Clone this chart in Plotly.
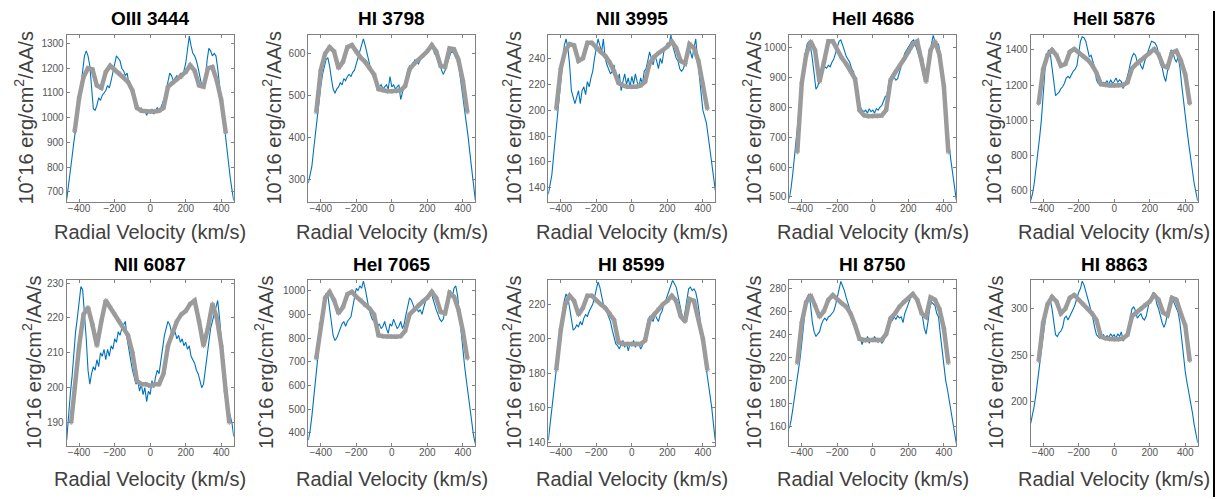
import plotly.graph_objects as go

# ---------------- data ----------------
TITLES = ["OIII 3444", "HI 3798", "NII 3995", "HeII 4686", "HeII 5876",
          "NII 6087", "HeI 7065", "HI 8599", "HI 8750", "HI 8863"]

# observed spectrum velocity grid (km/s)
OBS_V = list(range(-470, 471, 10))
# model velocity grid (km/s)
MODEL_V = list(range(-425, 426, 25))
MODEL_V_WIDE = [-445] + list(range(-425, 426, 25)) + [445]

OBS_OIII_3444 = [
    670, 720, 780, 840, 900, 950, 990, 1050, 1130, 1200,
    1250, 1270, 1250, 1210, 1116, 1036, 1030, 1050, 1080, 1070,
    1090, 1100, 1110, 1130, 1120, 1150, 1180, 1210, 1250, 1240,
    1230, 1200, 1190, 1170, 1180, 1140, 1110, 1090, 1070, 1050,
    1040, 1030, 1040, 1020, 1030, 1010, 1025, 1020, 1035, 1015,
    1030, 1040, 1030, 1040, 1060, 1080, 1110, 1150, 1180, 1170,
    1150, 1160, 1170, 1160, 1180, 1170, 1190, 1220, 1270, 1330,
    1290, 1260, 1250, 1230, 1200, 1160, 1130, 1120, 1150, 1230,
    1280, 1270, 1250, 1260, 1250, 1200, 1130, 1060, 1000, 950,
    880, 820, 760, 710, 665]
OBS_HI_3798 = [
    290, 310, 330, 370, 410, 450, 480, 520, 550, 570,
    585, 590, 570, 540, 515, 505, 515, 520, 530, 525,
    540, 535, 545, 550, 545, 555, 560, 575, 590, 600,
    615, 635, 620, 600, 580, 565, 550, 540, 530, 525,
    520, 525, 515, 520, 525, 515, 545, 520, 525, 515,
    520, 525, 490, 505, 520, 540, 560, 570, 565, 575,
    585, 580, 575, 585, 590, 595, 600, 605, 610, 620,
    615, 600, 595, 580, 575, 560, 550, 560, 575, 590,
    600, 605, 600, 590, 585, 560, 530, 490, 460, 440,
    400, 360, 320, 290, 250]
OBS_NII_3995 = [
    135, 142, 150, 165, 180, 195, 210, 225, 240, 250,
    255, 248, 235, 215, 210, 205, 210, 215, 205, 215,
    218, 212, 222, 218, 225, 230, 240, 248, 255, 250,
    245, 255, 240, 235, 232, 228, 230, 235, 225, 222,
    228, 215, 222, 228, 220, 225, 218, 226, 220, 228,
    222, 218, 225, 220, 230, 232, 238, 245, 240, 235,
    242, 238, 232, 240, 236, 245, 248, 252, 250, 258,
    250, 245, 240, 238, 232, 230, 232, 236, 245, 250,
    245, 240, 248, 255, 240, 225, 210, 200, 195, 190,
    180, 170, 160, 150, 138]
OBS_HEII_4686 = [
    495, 530, 580, 640, 700, 760, 830, 880, 940, 980,
    1010, 1020, 1000, 960, 900, 860, 870, 890, 910, 930,
    935, 930, 940, 935, 950, 960, 980, 1000, 1020, 1025,
    1010, 990, 970, 960, 950, 930, 920, 900, 870, 830,
    800, 790, 785, 790, 780, 795, 785, 790, 780, 795,
    790, 800, 805, 820, 835, 840, 880, 900, 910, 900,
    890, 895, 920, 940, 960, 980, 990, 1000, 1010, 1020,
    1025, 1010, 990, 970, 950, 920, 890, 900, 940, 980,
    1010, 1040, 1020, 1015, 1010, 980, 930, 870, 800, 730,
    670, 620, 570, 530, 490]
OBS_HEII_5876 = [
    543, 580, 640, 720, 800, 900, 1000, 1150, 1280, 1360,
    1400, 1380, 1300, 1200, 1140, 1150, 1160, 1180, 1190, 1210,
    1240, 1250, 1240, 1260, 1280, 1290, 1310, 1380, 1450, 1475,
    1470, 1450, 1400, 1360, 1370, 1340, 1300, 1230, 1210, 1205,
    1200, 1215, 1210, 1225, 1200, 1230, 1210, 1220, 1240, 1215,
    1230, 1220, 1180, 1200, 1230, 1270, 1320, 1360, 1380, 1370,
    1330, 1340, 1310, 1290, 1330, 1360, 1390, 1420, 1450, 1445,
    1440, 1420, 1380, 1320, 1300, 1250, 1220, 1280, 1360, 1400,
    1390, 1350, 1330, 1360, 1300, 1200, 1100, 1020, 940, 860,
    780, 700, 640, 590, 540]
OBS_NII_6087 = [
    185, 193, 198, 203, 210, 216, 220, 224, 229, 228,
    222, 214, 205, 201, 204, 206, 205, 208, 206, 210,
    209, 211, 208, 211, 209, 212, 211, 214, 213, 216,
    215, 217, 218, 219, 214, 211, 207, 205, 203, 201,
    202, 199, 201, 198, 200, 196, 199, 198, 202, 200,
    203, 205, 204, 208, 212, 215, 217, 219, 218, 216,
    215, 216, 214, 215, 213, 214, 212, 213, 211, 212,
    209, 208, 207, 205, 204, 202, 200, 201, 205, 210,
    214, 217, 219, 221, 223, 225, 220, 214, 208, 202,
    197, 194, 192, 190, 186]
OBS_HEI_7065 = [
    370, 410, 470, 540, 610, 680, 750, 840, 920, 960,
    990, 980, 930, 870, 810, 790, 800, 820, 840, 860,
    870, 850, 870, 880, 890, 930, 980, 1010, 1000, 1020,
    1010, 1040, 1010, 960, 930, 900, 880, 870, 860, 850,
    860, 840, 850, 870, 840, 820, 860, 850, 880, 860,
    840, 850, 870, 840, 860, 900, 940, 970, 960, 940,
    920, 930, 910, 920, 900, 930, 960, 980, 990, 1000,
    970, 940, 920, 900, 880, 870, 880, 920, 960, 990,
    1000, 970, 1010, 1020, 980, 900, 820, 740, 680, 620,
    560, 500, 440, 390, 355]
OBS_HI_8599 = [
    141, 150, 158, 166, 175, 185, 195, 205, 215, 222,
    226, 224, 218, 210, 205, 206, 208, 207, 210, 208,
    212, 214, 213, 216, 218, 220, 224, 228, 233, 230,
    225, 220, 218, 215, 212, 210, 205, 200, 197, 196,
    194, 197, 199, 195, 198, 193, 197, 196, 199, 195,
    198, 197, 194, 196, 200, 205, 210, 213, 212, 210,
    214, 212, 210, 214, 216, 220, 222, 225, 228, 232,
    234, 232, 230, 225, 220, 214, 210, 216, 224, 229,
    230, 228, 229, 227, 222, 215, 205, 195, 188, 182,
    175, 168, 160, 150, 141]
OBS_HI_8750 = [
    158, 165, 175, 185, 195, 205, 218, 232, 248, 262,
    272, 275, 265, 250, 242, 238, 240, 242, 248, 252,
    254, 252, 255, 256, 258, 260, 265, 272, 280, 286,
    282, 278, 272, 266, 262, 258, 252, 245, 240, 237,
    236, 231, 236, 233, 238, 232, 236, 234, 238, 235,
    233, 236, 232, 234, 238, 243, 250, 254, 252, 255,
    253, 256, 254, 255, 250, 258, 262, 266, 270, 275,
    276, 272, 270, 265, 262, 255, 245, 240, 250, 262,
    268, 266, 265, 258, 255, 240, 225, 210, 200, 192,
    182, 172, 162, 152, 145]
OBS_HI_8863 = [
    176, 185, 195, 208, 222, 238, 255, 270, 285, 300,
    308, 310, 300, 285, 272, 270, 274, 276, 280, 290,
    292, 288, 292, 295, 300, 305, 312, 318, 322, 330,
    326, 320, 312, 305, 298, 290, 280, 272, 270, 268,
    270, 272, 268, 271, 269, 273, 270, 272, 268, 273,
    270, 275, 265, 268, 272, 280, 290, 300, 302, 298,
    290, 292, 295, 290, 288, 292, 302, 310, 314, 318,
    315, 305, 300, 292, 285, 280, 285, 295, 302, 308,
    310, 305, 300, 296, 285, 265, 248, 232, 220, 210,
    200, 188, 175, 165, 155]

MOD_OIII_3444 = [945, 1080, 1165, 1200, 1195, 1130, 1120, 1185, 1210, 1195,
                 1180, 1165, 1145, 1110, 1040, 1028, 1025, 1025, 1025, 1028,
                 1040, 1125, 1140, 1155, 1165, 1185, 1212, 1190, 1130, 1125,
                 1200, 1205, 1150, 1070, 940]
MOD_HI_3798 = [460, 560, 600, 615, 605, 565, 580, 615, 620, 605,
               590, 580, 565, 550, 515, 512, 510, 510, 510, 512,
               522, 562, 575, 585, 595, 605, 620, 605, 570, 568,
               612, 610, 585, 535, 460]
MOD_NII_3995 = [201, 232, 246, 251, 250, 238, 240, 252, 252, 248,
                245, 242, 237, 230, 221, 219, 218, 218, 218, 219,
                222, 236, 241, 244, 246, 249, 253, 248, 238, 236,
                251, 248, 238, 220, 201]
MOD_HEII_4686 = [650, 880, 975, 1020, 990, 885, 950, 1020, 1020, 990,
                 965, 945, 920, 895, 790, 773, 770, 770, 770, 772,
                 790, 890, 915, 935, 960, 985, 1010, 1020, 960, 885,
                 990, 1020, 975, 870, 650]
MOD_HEII_5876 = [1095, 1290, 1370, 1400, 1370, 1310, 1320, 1390, 1405, 1385,
                 1365, 1345, 1315, 1270, 1205, 1200, 1198, 1198, 1198, 1200,
                 1215, 1295, 1320, 1340, 1360, 1380, 1405, 1375, 1310, 1300,
                 1385, 1395, 1340, 1260, 1095]
MOD_NII_6087 = [190, 200, 212, 221, 223, 218, 212, 219, 225, 223, 221,
                219, 217, 215, 210, 202, 201, 201, 200.5, 201, 201,
                204, 212, 216, 219, 221, 222, 224, 225, 219, 212,
                217, 224, 220, 212, 199, 190]
MOD_HEI_7065 = [715, 860, 970, 995, 960, 905, 930, 985, 995, 975,
                960, 940, 925, 900, 812, 808, 806, 806, 806, 808,
                830, 900, 920, 940, 955, 970, 995, 970, 910, 905,
                990, 975, 920, 830, 715]
MOD_HI_8599 = [182, 205, 220, 225, 222, 214, 218, 225, 225, 222,
               220, 218, 215, 211, 198, 197, 197, 197, 197, 197,
               199, 211, 214, 217, 220, 222, 225, 222, 213, 210,
               223, 222, 212, 200, 182]
MOD_HI_8750 = [215, 250, 268, 274, 265, 255, 260, 270, 274, 270,
               267, 264, 258, 248, 236, 235, 235, 235, 235, 235,
               240, 254, 258, 264, 268, 271, 275, 270, 258, 255,
               272, 270, 262, 245, 215]
MOD_HI_8863 = [244, 285, 305, 313, 308, 295, 300, 312, 315, 310,
               305, 300, 295, 288, 270, 268, 267, 267, 267, 268,
               272, 292, 296, 300, 304, 308, 315, 310, 296, 293,
               312, 310, 295, 282, 244]

OBS = [OBS_OIII_3444, OBS_HI_3798, OBS_NII_3995, OBS_HEII_4686, OBS_HEII_5876,
       OBS_NII_6087, OBS_HEI_7065, OBS_HI_8599, OBS_HI_8750, OBS_HI_8863]
MOD = [MOD_OIII_3444, MOD_HI_3798, MOD_NII_3995, MOD_HEII_4686, MOD_HEII_5876,
       MOD_NII_6087, MOD_HEI_7065, MOD_HI_8599, MOD_HI_8750, MOD_HI_8863]
MOD_VGRID = [MODEL_V] * 5 + [MODEL_V_WIDE] + [MODEL_V] * 4

Y_RANGES = [(659, 1334), (245, 644), (129, 258), (483, 1041), (533, 1485),
            (183.4, 230.8), (347, 1044), (138, 234), (143, 287), (152, 331)]
Y_TICKS = [[700, 800, 900, 1000, 1100, 1200, 1300],
           [300, 400, 500, 600],
           [140, 160, 180, 200, 220, 240],
           [500, 600, 700, 800, 900, 1000],
           [600, 800, 1000, 1200, 1400],
           [190, 200, 210, 220, 230],
           [400, 500, 600, 700, 800, 900, 1000],
           [140, 160, 180, 200, 220],
           [160, 180, 200, 220, 240, 260, 280],
           [200, 250, 300]]
X_TICKS = [-400, -200, 0, 200, 400]
X_RANGE = (-470, 470)

# ---------------- layout ----------------
# page body has an 8px margin, so the figure is shifted by OFF px
OFF = 8
PAGE_W, PAGE_H = 1223, 499
W, H = PAGE_W - OFF, PAGE_H - OFF
COL_L = [66.7, 308.3, 548.3, 789.3, 1030.7]     # page px
BOX_W = 167.0
ROW_T = [32.3, 280.0]
ROW_B = [201.0, 447.0]
YLAB_X = [24, 272, 512, 752, 992, 32, 264, 512, 752, 994]
TITLE_Y = [16, 264]
XLAB_Y = [231, 481]


def fx(px):
    return (px - OFF) / W


def fy(py):
    return 1 - (py - OFF) / H


FONT = "Liberation Sans, Arial, Helvetica, sans-serif"
BLUE = "#0072BD"
GRAY = "#9b9b9b"
AXC = "#808080"

fig = go.Figure()
annotations = []

for i in range(10):
    r, c = divmod(i, 5)
    n = i + 1
    xa = "x" if n == 1 else f"x{n}"
    ya = "y" if n == 1 else f"y{n}"
    fig.add_trace(go.Scatter(x=OBS_V, y=OBS[i], mode="lines",
                             line=dict(color=BLUE, width=1.1),
                             xaxis=xa, yaxis=ya, showlegend=False))
    fig.add_trace(go.Scatter(x=MOD_VGRID[i], y=MOD[i], mode="lines+markers",
                             line=dict(color=GRAY, width=4.5),
                             marker=dict(symbol="asterisk-open", size=4,
                                         color=GRAY, line=dict(color=GRAY, width=1)),
                             xaxis=xa, yaxis=ya, showlegend=False))
    common = dict(showline=True, linecolor=AXC, linewidth=1, mirror="ticks",
                  ticks="inside", ticklen=3, tickcolor=AXC, tickwidth=1,
                  showgrid=False, zeroline=False,
                  tickfont=dict(family=FONT, size=10, color="#555555"))
    fig.update_layout(**{
        ("xaxis" if n == 1 else f"xaxis{n}"): dict(
            domain=[fx(COL_L[c]), fx(COL_L[c] + BOX_W)], range=list(X_RANGE),
            tickvals=X_TICKS, anchor=ya, ticklabelstandoff=-3, **common),
        ("yaxis" if n == 1 else f"yaxis{n}"): dict(
            domain=[fy(ROW_B[r]), fy(ROW_T[r])], range=list(Y_RANGES[i]),
            tickvals=Y_TICKS[i], anchor=xa, **common),
    })
    cx = fx(COL_L[c] + BOX_W / 2)
    annotations.append(dict(text=f"<b>{TITLES[i]}</b>", x=cx, y=fy(TITLE_Y[r]),
                            xref="paper", yref="paper", showarrow=False,
                            xanchor="center", yanchor="middle",
                            font=dict(family=FONT, size=19, color="#000000")))
    annotations.append(dict(text="Radial Velocity (km/s)", x=cx, y=fy(XLAB_Y[r]),
                            xref="paper", yref="paper", showarrow=False,
                            xanchor="center", yanchor="middle",
                            font=dict(family=FONT, size=20, color="#404040")))
    annotations.append(dict(text="10ˆ16 erg/cm<sup>2</sup>/AA/s",
                            x=fx(YLAB_X[i]), y=fy((ROW_T[r] + ROW_B[r]) / 2),
                            xref="paper", yref="paper", showarrow=False,
                            textangle=-90, xanchor="center", yanchor="middle",
                            font=dict(family=FONT, size=20, color="#404040")))

fig.update_layout(
    width=W, height=H,
    margin=dict(l=0, r=0, t=0, b=0),
    paper_bgcolor="white", plot_bgcolor="white",
    annotations=annotations,
    shapes=[dict(type="line", xref="paper", yref="paper",
                 x0=fx(1214), x1=fx(1214), y0=0, y1=1,
                 line=dict(color="black", width=2))],
)

fig.write_html("out.html")
